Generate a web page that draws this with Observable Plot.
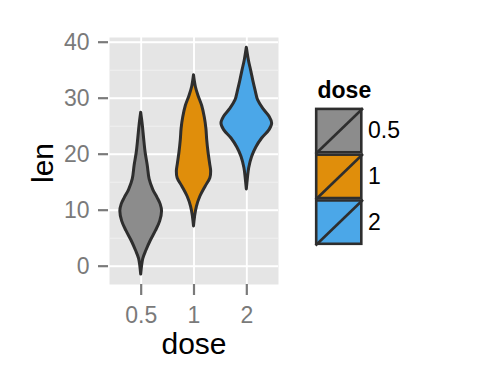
<!DOCTYPE html>
<html>
<head>
<meta charset="utf-8">
<script src="https://cdn.jsdelivr.net/npm/d3@7"></script>
<script src="https://cdn.jsdelivr.net/npm/@observablehq/plot@0.6"></script>
<style>
  html, body { margin: 0; padding: 0; background: #fff; }
  #wrap { position: relative; width: 480px; height: 384px; overflow: hidden; font-family: "Liberation Sans", Arial, sans-serif; }
  #wrap > * { position: absolute; }
</style>
</head>
<body>
<div id="wrap"></div>
<script>
// Categories and colours
const doses = ["0.5", "1", "2"];
const fills = ["#8C8C8C", "#E08E0B", "#4BA7E8"];

// Violin outlines: len values and half-widths (in category units)
const len05 = [27.4, 25.2, 22.8, 20.2, 17.9, 15.5, 13.6, 12.2, 11.0, 9.8, 8.0, 6.3, 4.5, 2.8, 1.3, -1.5];
const hw05  = [0, 0.03, 0.055, 0.085, 0.125, 0.16, 0.23, 0.31, 0.37, 0.395, 0.36, 0.28, 0.18, 0.1, 0.04, 0];

const len1 = [34.1, 32.0, 30.4, 28.6, 26.5, 24.5, 22.5, 20.3, 18.3, 16.9, 15.7, 14.2, 12.4, 10.6, 8.8, 7.1];
const hw1  = [0, 0.035, 0.085, 0.155, 0.205, 0.235, 0.25, 0.275, 0.305, 0.325, 0.31, 0.22, 0.12, 0.055, 0.02, 0];

const len2 = [39.0, 36.7, 34.8, 33.0, 31.4, 29.6, 28.0, 26.7, 25.5, 24.3, 22.8, 21.2, 19.5, 17.5, 15.6, 13.7];
const hw2  = [0, 0.04, 0.085, 0.125, 0.165, 0.215, 0.32, 0.43, 0.48, 0.43, 0.29, 0.18, 0.1, 0.045, 0.02, 0];

// Axis ticks
const yMajor = [0, 10, 20, 30, 40];
const yMinor = [5, 15, 25, 35];
const xTicks = [1, 2, 3];

const outlines = [[len05, hw05], [len1, hw1], [len2, hw2]];
const rows = outlines.flatMap(([ls, ws], k) =>
  ls.map((l, j) => ({dose: doses[k], pos: k + 1, len: l, w: ws[j]})));

const font = "'Liberation Sans', Arial, sans-serif";

const main = Plot.plot({
  width: 480,
  height: 384,
  marginLeft: 109,
  marginRight: 202,
  marginTop: 37,
  marginBottom: 100,
  style: {fontFamily: font, fontSize: "23px", background: "transparent"},
  x: {domain: [0.4, 3.6]},
  y: {domain: [-3.27, 40.84]},
  color: {domain: doses, range: fills},
  marks: [
    Plot.frame({fill: "#E5E5E5", stroke: null}),
    Plot.ruleY(yMinor, {stroke: "#F2F2F2", strokeWidth: 0.9}),
    Plot.ruleY(yMajor, {stroke: "#FFFFFF", strokeWidth: 1.9}),
    Plot.ruleX(xTicks, {stroke: "#FFFFFF", strokeWidth: 1.9}),
    Plot.areaX(rows, {
      y: "len",
      x1: d => d.pos - d.w,
      x2: d => d.pos + d.w,
      z: "dose",
      fill: "dose",
      stroke: "#2E2E2E",
      strokeWidth: 3,
      strokeLinejoin: "round",
      curve: "catmull-rom"
    }),
    Plot.axisY(yMajor, {
      tickSize: 10, tickPadding: 9, dx: -1,
      color: "#7A7A7A", strokeWidth: 2.2, fontSize: 23, label: null
    }),
    Plot.axisX(xTicks, {
      tickSize: 11, tickPadding: 11,
      tickFormat: i => doses[i - 1],
      color: "#7A7A7A", strokeWidth: 2.2, fontSize: 23, label: null
    }),
    Plot.text(["dose"], {frameAnchor: "bottom", textAnchor: "middle", lineAnchor: "bottom", dy: 69, fontSize: 30, fill: "#000"}),
    Plot.text(["len"], {frameAnchor: "left", textAnchor: "middle", lineAnchor: "bottom", rotate: -90, dx: -57, dy: 2, fontSize: 30, fill: "#000"})
  ]
});
main.style.left = "0px";
main.style.top = "0px";

const legend = Plot.plot({
  width: 130,
  height: 180,
  marginLeft: 15,
  marginRight: 130 - 62.5,
  marginTop: 37.7,
  marginBottom: 180 - 37.7 - 137.3,
  style: {fontFamily: font, fontSize: "23px", background: "transparent", overflow: "visible"},
  x: {domain: [0, 1], axis: null},
  y: {domain: [3, 0], axis: null},
  color: {domain: doses, range: fills},
  marks: [
    Plot.rect(doses, {x1: 0, x2: 1, y1: (d, i) => i, y2: (d, i) => i + 1, fill: d => d, stroke: "#2E2E2E", strokeWidth: 2.6, inset: 1.2}),
    Plot.link(doses, {x1: 0, x2: 1, y1: (d, i) => i + 1, y2: (d, i) => i, stroke: "#2E2E2E", strokeWidth: 2.6}),
    Plot.text(doses, {x: 1, y: (d, i) => i + 0.5, text: d => d, textAnchor: "start", dx: 5, fontSize: 23, fill: "#000"}),
    Plot.text(["dose"], {frameAnchor: "top-left", lineAnchor: "bottom", dy: -10, dx: 2, fontSize: 23, fontWeight: "bold", fill: "#000"})
  ]
});
legend.style.left = "300px";
legend.style.top = "70px";

const wrap = document.getElementById("wrap");
wrap.appendChild(main);
wrap.appendChild(legend);
</script>
</body>
</html>
